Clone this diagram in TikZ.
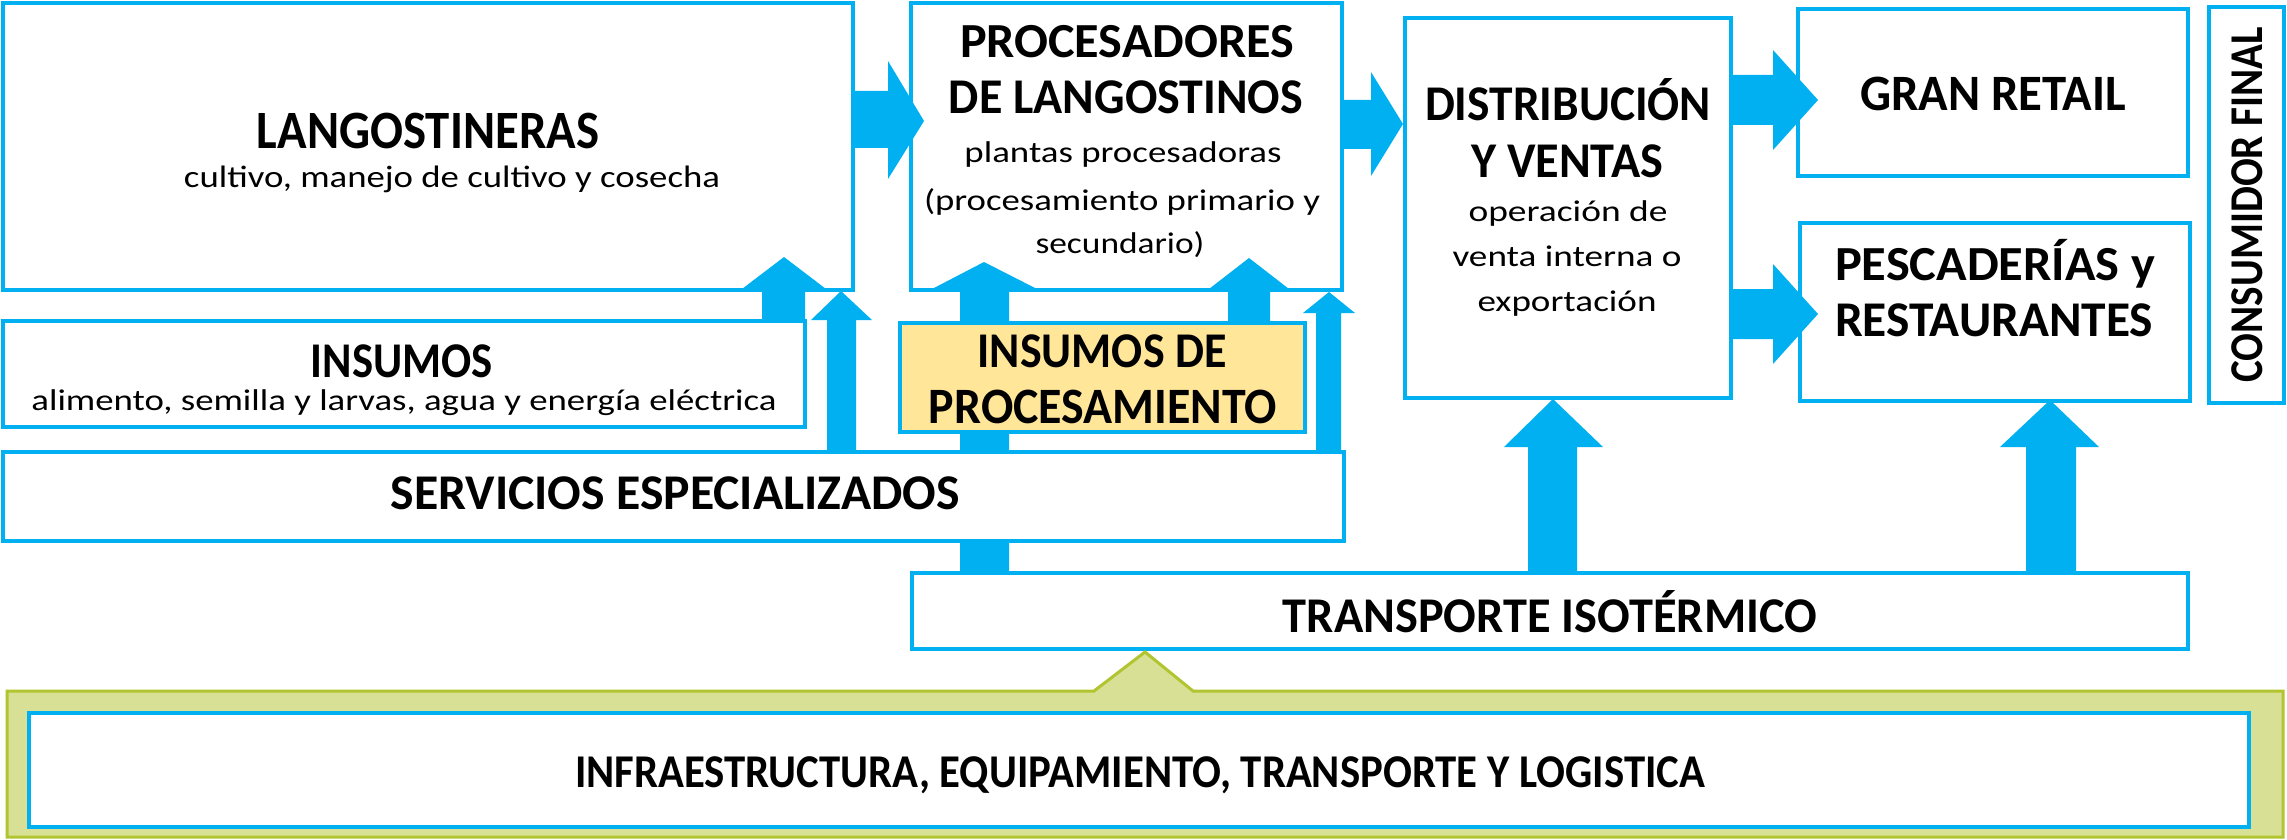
\documentclass[tikz,border=0pt]{standalone}
\usepackage{fontspec}
\setmainfont{Carlito}
\newfontfamily\arialf{Liberation Sans}
\usepackage{graphicx}
\definecolor{cyanb}{HTML}{00B0F0}
\definecolor{yellowf}{HTML}{FFE699}
\definecolor{greenf}{HTML}{D8E096}
\definecolor{greenb}{HTML}{B2C430}
\newcommand{\blkup}[8]{\fill[arr] (#1,#3) -- (#1,#4) -- (#5,#4) -- (#7,#8) -- (#6,#4) -- (#2,#4) -- (#2,#3) -- cycle;}
\newcommand{\blkright}[8]{\fill[arr] (#1,#3) -- (#2,#3) -- (#2,#5) -- (#7,#8) -- (#2,#6) -- (#2,#4) -- (#1,#4) -- cycle;}
\newcommand{\tl}[6]{\node[anchor=base, inner sep=0pt] (#1) at (#2,#3) {\resizebox{#4pt}{\height}{\fontsize{#5}{#5}\selectfont #6}};}
\begin{document}
\begin{tikzpicture}[x=1pt,y=-1pt,
  box/.style={draw=cyanb, line width=3.5pt, fill=white, inner sep=0pt, outer sep=0pt},
  arr/.style={fill=cyanb}]
\useasboundingbox (0,0) rectangle (2287,840);
\fill[white] (0,0) rectangle (2287,840);
% top boxes
\node[box, minimum width=850pt, minimum height=287pt] (lang) at (428,146.5) {};
\node[box, minimum width=431pt, minimum height=287pt] (proc) at (1126.5,146.5) {};
\node[box, minimum width=326pt, minimum height=380pt] (dist) at (1568,208) {};
\node[box, minimum width=390pt, minimum height=167pt] (gran) at (1993,92.5) {};
\node[box, minimum width=390pt, minimum height=178pt] (pesc) at (1995,312) {};
\node[box, minimum width=75pt, minimum height=396pt] (cons) at (2246.5,205) {};
% block arrows
\blkright{855}{888}{91}{148}{61}{179}{924}{121}
\blkright{1342}{1371}{100}{149}{72}{176}{1403}{124}
\blkright{1731}{1773}{75}{125}{50}{150}{1818}{100}
\blkright{1731}{1773}{289}{339}{264}{364}{1818}{314}
\blkup{762}{805}{323}{289}{742}{826}{784}{257}
\blkup{827}{856}{452}{320}{811}{872}{841}{291}
\blkup{960}{1009}{573}{289}{932}{1037}{984}{262}
\blkup{1228}{1270}{323}{289}{1209}{1289}{1249}{258}
\blkup{1316}{1341}{452}{313}{1303}{1355}{1329}{292}
\blkup{1528}{1577}{573}{447}{1504}{1603}{1553}{399}
\blkup{2026}{2076}{573}{447}{2000}{2099}{2050}{400}
% lower boxes
\node[box, minimum width=802pt, minimum height=106pt] (ins) at (404,374) {};
\node[box, fill=yellowf, minimum width=405pt, minimum height=109pt] (insproc) at (1102.5,377.5) {};
\node[box, minimum width=1341pt, minimum height=89pt] (serv) at (673.5,496.5) {};
\node[box, minimum width=1276pt, minimum height=76pt] (transp) at (1550,611) {};
% callout
\draw[draw=greenb, fill=greenf, line width=3pt, line join=miter]
  (7,691) -- (1094,691) -- (1145,652) -- (1193,691) -- (2283,691) -- (2283,837) -- (7,837) -- cycle;
\node[box, minimum width=2220pt, minimum height=114pt] (infra) at (1139,770) {};
% texts
\tl{t1}{428}{149}{342}{54}{\bfseries LANGOSTINERAS}
\tl{t2}{452}{187}{536}{31}{cultivo, manejo de cultivo y cosecha}
\tl{t3}{402}{377}{182}{50}{\bfseries INSUMOS}
\tl{t4}{404}{410}{745}{30}{alimento, semilla y larvas, agua y energía eléctrica}
\tl{t5}{675}{509}{569}{50}{\bfseries SERVICIOS ESPECIALIZADOS}
\tl{t6}{1127}{58}{334}{49}{\bfseries PROCESADORES}
\tl{t7}{1126}{114}{354}{50}{\bfseries DE LANGOSTINOS}
\tl{t8}{1123}{163}{317}{30}{plantas procesadoras}
\tl{t9}{1122}{210}{396}{30}{(procesamiento primario y}
\tl{t10}{1120}{253}{169}{30}{secundario)}
\tl{t11}{1568}{121}{286}{50}{\bfseries DISTRIBUCIÓN}
\tl{t12}{1567}{177}{192}{50}{\bfseries Y VENTAS}
\tl{t13}{1568}{222}{199}{30}{operación de}
\tl{t14}{1567}{266}{229}{30}{venta interna o}
\tl{t15}{1567}{311}{179}{30}{exportación}
\tl{t16}{1993}{111}{266}{51}{\bfseries GRAN RETAIL}
\tl{t17}{1995}{280}{320}{49}{\bfseries PESCADERÍAS y}
\tl{t18}{1994}{336}{318}{50}{\bfseries RESTAURANTES}
\tl{t19}{1102}{367}{249}{50}{\bfseries INSUMOS DE}
\tl{t20}{1103}{423}{348}{51}{\bfseries PROCESAMIENTO}
\tl{t21}{1550}{632}{534}{50}{\bfseries TRANSPORTE ISOTÉRMICO}
\tl{t22}{1140}{787}{1130}{47}{\bfseries INFRAESTRUCTURA, EQUIPAMIENTO, TRANSPORTE Y LOGISTICA}
\node[rotate=90, anchor=base, inner sep=0pt] (t23) at (2262,205) {\resizebox{355pt}{\height}{\fontsize{47}{47}\selectfont\bfseries CONSUMIDOR FINAL}};
\end{tikzpicture}
\end{document}
